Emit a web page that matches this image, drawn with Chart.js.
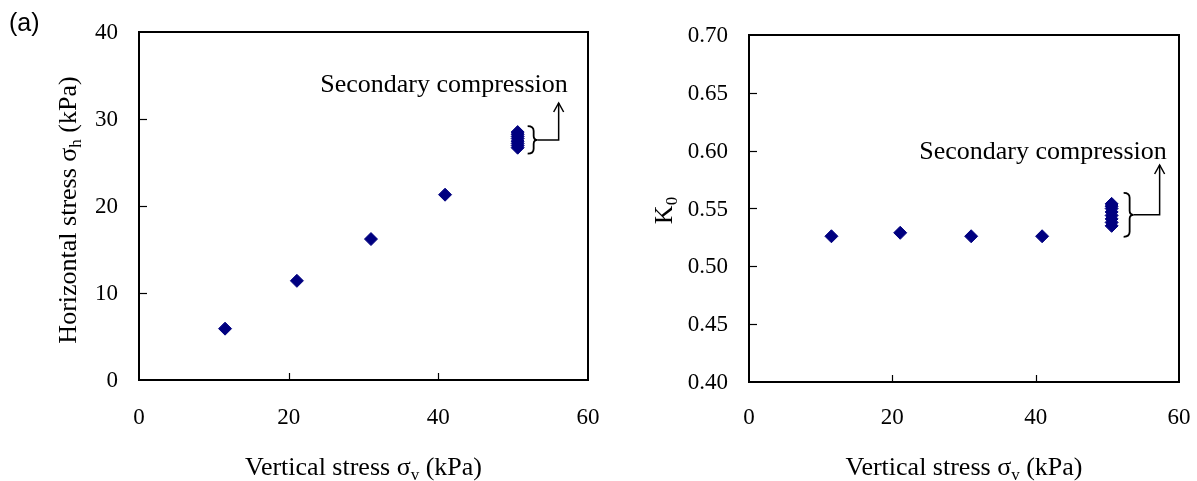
<!DOCTYPE html>
<html><head><meta charset="utf-8">
<script src="https://cdn.jsdelivr.net/npm/chart.js@4/dist/chart.umd.min.js"></script>
<style>
html,body{margin:0;padding:0;background:#fff;}
#wrap{position:relative;width:1197px;height:481px;overflow:hidden;}
#c1{position:absolute;left:0;top:0;}
#c2{position:absolute;left:600px;top:0;}
</style></head><body>
<div id="wrap"><canvas id="c1" width="600" height="481"></canvas><canvas id="c2" width="597" height="481"></canvas></div>
<script>
// ---- data ----
const sigmaV = [11.5, 21.1, 31.0, 40.9];
const sigmaH = [5.9, 11.4, 16.2, 21.3];
const K0 = [0.526, 0.529, 0.526, 0.526];
const secSigmaV = 50.6;
const secSigmaH = [26.7, 26.95, 27.2, 27.45, 27.75, 28.0, 28.25, 28.5];
const secK0 = [0.535, 0.538, 0.541, 0.544, 0.547, 0.550, 0.552, 0.554];
const xTickValues = [0, 20, 40, 60];
const leftYTickValues = [0, 10, 20, 30, 40];
const rightYTickValues = [0.40, 0.45, 0.50, 0.55, 0.60, 0.65, 0.70];
const panelLabel = '(a)';
const annotationText = 'Secondary compression';
const xTitleParts = [['Vertical stress σ', false], ['v', true], [' (kPa)', false]];
const leftYTitleParts = [['Horizontal stress σ', false], ['h', true], [' (kPa)', false]];
const rightYTitleParts = [['K', false], ['0', true]];

const SERIF = '"Liberation Serif", "Times New Roman", serif';
const MARK = '#000080';
const TITLE_SIZE = 26;
const TICK_FONT = '23px ' + SERIF;

function drawRich(ctx, parts, cx, cy, size) {
  const fMain = size + 'px ' + SERIF, fSub = Math.round(size * 0.66) + 'px ' + SERIF;
  ctx.save();
  ctx.translate(cx, cy);
  let w = 0;
  parts.forEach(p => { ctx.font = p[1] ? fSub : fMain; w += ctx.measureText(p[0]).width; });
  let x = -w / 2;
  ctx.textAlign = 'left'; ctx.textBaseline = 'alphabetic';
  const base = size * 0.33;
  parts.forEach(p => {
    ctx.font = p[1] ? fSub : fMain;
    ctx.fillText(p[0], x, base + (p[1] ? size * 0.2 : 0));
    x += ctx.measureText(p[0]).width;
  });
  ctx.restore();
}

function drawLabel(ctx, text, x, y, align, font) {
  ctx.font = font;
  ctx.textAlign = align; ctx.textBaseline = 'middle';
  ctx.fillText(text, x, y);
}

function line(ctx, x1, y1, x2, y2) { ctx.beginPath(); ctx.moveTo(x1, y1); ctx.lineTo(x2, y2); ctx.stroke(); }

const decor = {
  id: 'decor',
  afterDraw(chart, args, o) {
    const { ctx, chartArea: a, scales: { x, y } } = chart;
    ctx.save();
    ctx.strokeStyle = '#000'; ctx.fillStyle = '#000';
    // frame
    ctx.lineWidth = 2;
    ctx.strokeRect(a.left, a.top, a.right - a.left, a.bottom - a.top);
    // inward ticks + tick labels
    ctx.lineWidth = 1.2;
    x.ticks.forEach(t => {
      const px = x.getPixelForValue(t.value);
      drawLabel(ctx, o.fmtX(t.value), px, o.xLabelY, 'center', TICK_FONT);
      if (t.value <= x.min || t.value >= x.max) return;
      const rp = Math.round(px) + 0.5;
      line(ctx, rp, a.bottom, rp, a.bottom - 7);
    });
    y.ticks.forEach(t => {
      const py = y.getPixelForValue(t.value);
      drawLabel(ctx, o.fmtY(t.value), a.left - 21, py + 1, 'right', TICK_FONT);
      if (t.value <= y.min + 1e-9 || t.value >= y.max - 1e-9) return;
      const rp = Math.round(py) + 0.5;
      line(ctx, a.left, rp, a.left + 8, rp);
    });
    // titles
    drawRich(ctx, xTitleParts, (a.left + a.right) / 2, o.xTitleY, TITLE_SIZE);
    ctx.save();
    ctx.translate(o.yTitleX, (a.top + a.bottom) / 2 + o.yTitleDy);
    ctx.rotate(-Math.PI / 2);
    drawRich(ctx, o.yTitleParts, 0, 0, TITLE_SIZE);
    ctx.restore();
    if (o.panel) {
      ctx.font = '25px "Liberation Sans", Arial, sans-serif';
      ctx.textAlign = 'left'; ctx.textBaseline = 'alphabetic';
      ctx.fillText(o.panel, 9, 31);
    }
    // annotation: bracket + arrow + text
    const sec = chart.data.datasets[1].data;
    const cx = x.getPixelForValue(sec[0].x);
    const ys = sec.map(p => y.getPixelForValue(p.y));
    const top = Math.min(...ys) - 7 - o.bPad, bot = Math.max(...ys) + 7 + o.bPad;
    const mid = (top + bot) / 2;
    const bx = cx + o.bOff, bw = 6;
    ctx.lineWidth = 1.8;
    ctx.beginPath();
    ctx.moveTo(bx, top);
    ctx.quadraticCurveTo(bx + bw, top, bx + bw, top + 5);
    ctx.lineTo(bx + bw, mid - 4);
    ctx.quadraticCurveTo(bx + bw, mid, bx + bw + 4, mid);
    ctx.quadraticCurveTo(bx + bw, mid, bx + bw, mid + 4);
    ctx.lineTo(bx + bw, bot - 5);
    ctx.quadraticCurveTo(bx + bw, bot, bx, bot);
    ctx.stroke();
    ctx.lineWidth = 1.5;
    const ax = cx + o.arrowOff;
    ctx.beginPath();
    ctx.moveTo(bx + bw + 4, mid);
    ctx.lineTo(ax, mid);
    ctx.lineTo(ax, o.arrowTop);
    ctx.stroke();
    ctx.beginPath();
    ctx.moveTo(ax - 5, o.arrowTop + 9);
    ctx.lineTo(ax, o.arrowTop);
    ctx.lineTo(ax + 5, o.arrowTop + 9);
    ctx.stroke();
    drawLabel(ctx, annotationText, o.textX, o.textY, 'center', TITLE_SIZE + 'px ' + SERIF);
    ctx.restore();
  }
};

function makeChart(id, mainY, secY, yTicks, yMin, yMax, layoutPad, yWidth, xHeight, decorOpts) {
  return new Chart(document.getElementById(id), {
    type: 'scatter',
    data: {
      datasets: [
        { data: sigmaV.map((v, i) => ({ x: v, y: mainY[i] })) },
        { data: secY.map(v => ({ x: secSigmaV, y: v })) }
      ]
    },
    options: {
      responsive: false, animation: false,
      layout: { padding: layoutPad },
      elements: { point: { pointStyle: 'rectRot', radius: 6.5, backgroundColor: MARK, borderColor: MARK, borderWidth: 1 } },
      plugins: { legend: { display: false }, tooltip: { enabled: false }, decor: decorOpts },
      scales: {
        x: {
          type: 'linear', min: 0, max: 60,
          afterBuildTicks: s => { s.ticks = xTickValues.map(v => ({ value: v })); },
          afterFit: s => { s.height = xHeight; },
          ticks: { display: false },
          grid: { display: false }, border: { display: false }
        },
        y: {
          type: 'linear', min: yMin, max: yMax,
          afterBuildTicks: s => { s.ticks = yTicks.map(v => ({ value: v })); },
          afterFit: s => { s.width = yWidth; },
          ticks: { display: false },
          grid: { display: false }, border: { display: false }
        }
      }
    },
    plugins: [decor]
  });
}

makeChart('c1', sigmaH, secSigmaH, leftYTickValues, 0, 40,
  { left: 0, right: 12, top: 32, bottom: 0 }, 139, 101,
  { xTitleY: 466, xLabelY: 418, yTitleX: 67, yTitleDy: 4, yTitleParts: leftYTitleParts, panel: panelLabel,
    bPad: -1, bOff: 10, arrowOff: 41, arrowTop: 103, textX: 444, textY: 85,
    fmtX: v => String(v), fmtY: v => String(v) });

makeChart('c2', K0, secK0, rightYTickValues, 0.40, 0.70,
  { left: 0, right: 18, top: 35, bottom: 0 }, 149, 99,
  { xTitleY: 466, xLabelY: 418, yTitleX: 63, yTitleDy: 2, yTitleParts: rightYTitleParts, panel: null,
    bPad: 4, bOff: 12, arrowOff: 48, arrowTop: 165, textX: 443, textY: 152,
    fmtX: v => String(v), fmtY: v => Number(v).toFixed(2) });
</script>
</body></html>
